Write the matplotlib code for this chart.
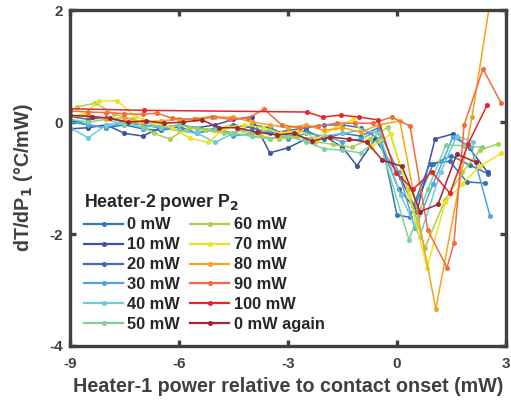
import matplotlib
matplotlib.use("Agg")
import matplotlib.pyplot as plt

plt.rcParams['font.family'] = ['Liberation Sans', 'DejaVu Sans']
plt.rcParams['font.weight'] = 'bold'
plt.rcParams['mathtext.default'] = 'bf'
plt.rcParams['axes.unicode_minus'] = False

grid = [-9, -8.5, -8, -7.5, -7, -6.5, -6, -5.5, -5, -4.5, -4, -3.5, -3, -2.5, -2, -1.5, -1]

# Heater-2 power series
x_0 = grid + [-0.5, 0, 0.35, 1.0, 1.5, 2.0, 2.5]
y_0 = [0.05, -0.05, -0.1, -0.05, -0.12, -0.15, -0.08, -0.2, -0.12, -0.2, -0.05, -0.1, -0.25, -0.15, -0.3, -0.2, -0.25,
       -0.1, -1.66, -1.7, -0.75, -0.6, -0.77, -0.92]

x_10 = grid[:-1] + [-1.1, -0.6, 0.1, 0.55, 1.05, 1.55, 2.0, 2.5]
y_10 = [-0.12, -0.1, -0.05, -0.2, -0.25, -0.1, -0.15, -0.1, -0.05, 0.05, 0.09, -0.55, -0.46, -0.3, -0.25, -0.45,
        -0.78, -0.3, -1.0, -1.6, -0.3, -0.21, -0.47, -0.9]

x_20 = grid + [-0.5, 0.05, 0.45, 0.9, 1.45, 1.93, 2.42]
y_20 = [0.1, 0.05, 0.08, 0.0, -0.05, -0.1, -0.05, -0.1, -0.15, -0.05, -0.1, -0.2, -0.15, -0.1, -0.05, -0.05, -0.1,
        -0.3, -1.2, -1.5, -0.75, -0.7, -1.07, -1.09]

x_30 = grid + [-0.5, 0.05, 0.5, 1.0, 1.54, 2.05, 2.56]
y_30 = [0.0, -0.05, -0.1, 0.0, -0.05, -0.1, -0.15, -0.2, -0.1, -0.25, -0.2, -0.15, -0.3, -0.2, -0.25, -0.35, -0.3,
        -0.15, -0.9, -1.9, -1.1, -0.27, -0.45, -1.67]

x_40 = grid + [-0.5, 0.1, 0.63, 1.2, 1.65, 2.1]
y_40 = [-0.1, -0.28, -0.05, 0.0, -0.1, -0.05, -0.15, -0.2, -0.36, -0.2, -0.25, -0.3, -0.2, -0.3, -0.25, -0.2, -0.15,
        -0.2, -1.3, -2.05, -0.9, -0.25, -0.35]

x_50 = grid + [-0.5, 0.33, 0.85, 1.35, 1.85, 2.35]
y_50 = [0.05, 0.0, 0.05, -0.05, 0.02, -0.1, -0.05, -0.1, -0.15, -0.2, -0.25, -0.3, -0.25, -0.35, -0.48, -0.5, -0.55,
        -0.3, -2.1, -1.2, -0.41, -0.42, -0.45]

x_60 = [-8.8, -8.3, -7.8, -7.3, -6.7, -6.25, -5.75, -5.25, -4.75, -4.25, -3.75, -3.25, -2.75, -2.25, -1.75, -1.25,
        -0.75, -0.25, 0.3, 0.77, 1.32, 1.8, 2.29, 2.78]
y_60 = [0.27, 0.34, 0.15, 0.05, -0.2, -0.3, -0.1, -0.15, -0.2, -0.15, -0.25, -0.3, -0.25, -0.35, -0.4, -0.45,
        -0.3, -0.09, -1.2, -2.25, -1.4, -0.9, -0.5, -0.39]

x_70 = [-9, -8.6, -8.2, -7.7, -7.2, -6.7, -6.2, -5.7, -5.2, -4.7, -4.2, -3.7, -3.2, -2.7, -2.2, -1.7, -1.2, -0.7,
        -0.17, 0.33, 0.83, 1.33, 1.8, 2.3, 2.87]
y_70 = [0.1, 0.15, 0.38, 0.38, 0.1, 0.0, -0.1, -0.29, -0.36, -0.09, -0.05, -0.1, -0.2, -0.15, -0.3, -0.1, 0.05, -0.45,
        -0.21, -1.3, -2.6, -1.43, -1.1, -0.78, -0.56]

x_80 = grid + [-0.5, 0.08, 1.07, 2.07, 2.6]
y_80 = [0.1, 0.12, 0.05, 0.08, 0.0, 0.02, 0.05, 0.05, 0.09, 0.09, 0.0, -0.05, -0.1, -0.05, -0.15, -0.1, -0.18,
        -0.05, 0.02, -3.34, 0.1, 2.3]

x_90 = [-9, -8.5, -8, -7.5, -7, -6.6, -6.2, -5.6, -5.1, -4.6, -4.1, -3.66, -3.17, -2.67, -2.17, -1.65, -1.16, -0.66,
        -0.14, 0.36, 0.85, 1.38, 1.57, 1.85, 2.37, 2.87]
y_90 = [0.2, 0.18, 0.17, 0.15, 0.14, 0.16, 0.07, 0.05, 0.1, 0.05, 0.07, 0.23, -0.05, -0.1, -0.07, -0.02, -0.02, -0.02,
        0.09, -0.07, -1.93, -2.6, -2.16, -0.05, 0.95, 0.34]

x_100 = [-9, -6.97, -2.48, -2.04, -1.54, -1.05, -0.52, -0.03, 0.44, 0.96, 1.46, 1.96, 2.48]
y_100 = [0.24, 0.21, 0.18, 0.09, 0.125, 0.09, 0.04, -0.91, -1.2, -0.89, -1.27, -0.39, 0.3]

x_again = [-9, -8.4, -7.9, -7.4, -6.9, -6.4, -5.9, -5.37, -4.9, -4.4, -3.86, -3.3, -2.84, -2.34, -1.85, -1.33, -0.83,
           -0.4, 0.14, 0.64, 1.13, 1.65, 2.18]
y_again = [0.12, 0.1, 0.07, 0.0, 0.02, -0.02, 0.0, 0.04, -0.1, -0.1, -0.18, -0.23, -0.2, -0.34, -0.27, -0.3, -0.36,
           -0.68, -0.79, -1.6, -1.47, -0.57, -0.72]

labels = ['0 mW', '10 mW', '20 mW', '30 mW', '40 mW', '50 mW',
          '60 mW', '70 mW', '80 mW', '90 mW', '100 mW', '0 mW again']
colors = ['#2b7bba', '#3a53a4', '#3d6fb6', '#4ea5dc', '#6cc9df', '#82cf9a',
          '#a9d04f', '#f0e21a', '#f7a21b', '#f36c3c', '#e6262b', '#a8232b']
xs = [x_0, x_10, x_20, x_30, x_40, x_50, x_60, x_70, x_80, x_90, x_100, x_again]
ys = [y_0, y_10, y_20, y_30, y_40, y_50, y_60, y_70, y_80, y_90, y_100, y_again]

dark = '#404040'
fig = plt.figure(figsize=(5.11, 4.07), dpi=100)
ax = fig.add_axes([0.137, 0.150, 0.853, 0.825])

for x, y, c, lab in zip(xs, ys, colors, labels):
    ax.plot(x, y, '-o', color=c, lw=1.1, ms=2.6, label=lab)

ax.set_xlim(-9, 3)
ax.set_ylim(-4, 2)
ax.set_xticks([-9, -6, -3, 0, 3])
ax.set_yticks([-4, -2, 0, 2])
for s in ax.spines.values():
    s.set_color(dark)
    s.set_linewidth(2.4)
ax.tick_params(direction='in', length=4, width=2.4, color=dark, labelcolor=dark,
               labelsize=11, top=True, right=True, pad=5)
ax.tick_params(axis='x', pad=8)
for t in ax.get_xticklabels() + ax.get_yticklabels():
    t.set_fontweight('bold')

ax.set_xlabel('Heater-1 power relative to contact onset (mW)', fontsize=14.2,
              fontweight='bold', color=dark, labelpad=4)
ax.set_ylabel('dT/dP$_1$ (°C/mW)', fontsize=14.2, fontweight='bold', color=dark)
ax.yaxis.set_label_coords(-0.08, 0.5)

leg = ax.legend(ncol=2, frameon=False, loc='lower left', bbox_to_anchor=(0.0, 0.0),
                title='Heater-2 power P$_2$', alignment='left',
                title_fontproperties={'weight': 'bold', 'size': 12.8},
                prop={'weight': 'bold', 'size': 11.8},
                handlelength=2.4, handletextpad=0.25, columnspacing=0.6,
                labelspacing=0.3, borderaxespad=0.45)
for line in leg.get_lines():
    line.set_linewidth(1.6)
for t in leg.get_texts():
    t.set_color('#262626')
leg.get_title().set_color('#262626')

fig.savefig('out.png', dpi=100)
